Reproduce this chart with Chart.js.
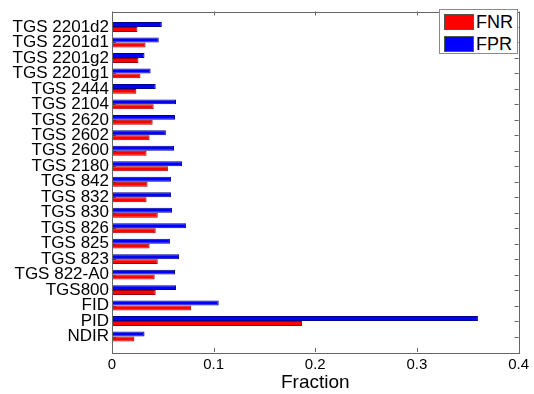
<!DOCTYPE html>
<html>
<head>
<meta charset="utf-8">
<script src="https://cdn.jsdelivr.net/npm/chart.js@4/dist/chart.umd.min.js"></script>
<style>
  body { margin: 0; background: #fff; }
  #wrap { position: relative; width: 534px; height: 394px; }
  #legend {
    position: absolute; left: 439px; top: 9px; width: 79px; height: 45px;
    box-sizing: border-box; border: 1px solid #8a8a8a; background: #fff;
    font-family: "Liberation Sans", Arial, sans-serif; font-size: 18px; color: #000;
  }
  #legend .row { position: absolute; left: 4px; height: 17px; line-height: 17px; white-space: nowrap; }
  #legend .sw { display: inline-block; width: 30px; height: 16px; box-sizing: border-box;
    border: 1px solid #555; vertical-align: top; margin-right: 2px; }
</style>
</head>
<body>
<div id="wrap">
  <canvas id="chart" width="534" height="394"></canvas>
  <div id="legend"></div>
</div>
<script>
const categories = ["TGS 2201d2", "TGS 2201d1", "TGS 2201g2", "TGS 2201g1", "TGS 2444",
  "TGS 2104", "TGS 2620", "TGS 2602", "TGS 2600", "TGS 2180", "TGS 842", "TGS 832",
  "TGS 830", "TGS 826", "TGS 825", "TGS 823", "TGS 822-A0", "TGS800", "FID", "PID", "NDIR"];
const fnr = [0.025, 0.033, 0.026, 0.028, 0.024, 0.041, 0.040, 0.037, 0.034, 0.055, 0.035,
  0.034, 0.045, 0.043, 0.037, 0.045, 0.042, 0.043, 0.078, 0.187, 0.022];
const fpr = [0.049, 0.046, 0.032, 0.038, 0.043, 0.063, 0.062, 0.053, 0.061, 0.069, 0.058,
  0.058, 0.059, 0.073, 0.057, 0.066, 0.062, 0.063, 0.105, 0.360, 0.032];
const xTicks = [0, 0.1, 0.2, 0.3, 0.4];

const FONT = "'Liberation Sans', Arial, sans-serif";

// matlab leaves a full slot above the first and below the last bar
const labels = ["", ...categories, ""];
const pad = (arr) => [null, ...arr, null];

const series = [
  { label: "FNR", data: fnr, color: "#ff0000" },
  { label: "FPR", data: fpr, color: "#0000ff" }
];

// legend in the top right corner of the axes
const legendEl = document.getElementById("legend");
series.forEach((s, i) => {
  const row = document.createElement("div");
  row.className = "row";
  row.style.top = (4 + i * 22) + "px";
  row.innerHTML = `<span class="sw" style="background:${s.color}"></span>${s.label}`;
  legendEl.appendChild(row);
});

const frame = {
  id: "frame",
  beforeDatasetsDraw(chart) {
    const { ctx, chartArea: a, scales: { x, y } } = chart;
    ctx.save();
    ctx.strokeStyle = "#666";
    ctx.lineWidth = 1;
    ctx.beginPath();
    xTicks.forEach((v) => {
      const px = Math.round(x.getPixelForValue(v)) + 0.5;
      ctx.moveTo(px, a.bottom); ctx.lineTo(px, a.bottom - 4);
      ctx.moveTo(px, a.top); ctx.lineTo(px, a.top + 4);
    });
    categories.forEach((c, i) => {
      const py = Math.round(y.getPixelForValue(i + 1)) + 0.5;
      ctx.moveTo(a.right, py); ctx.lineTo(a.right - 4, py);
      ctx.moveTo(a.left, py); ctx.lineTo(a.left + 4, py);
    });
    ctx.stroke();
    ctx.restore();
  },
  afterDatasetsDraw(chart) {
    const { ctx, chartArea: a } = chart;
    ctx.save();
    ctx.strokeStyle = "#666";
    ctx.lineWidth = 1;
    ctx.strokeRect(Math.round(a.left) + 0.5, Math.round(a.top) + 0.5,
      Math.round(a.right - a.left), Math.round(a.bottom - a.top));
    ctx.restore();
  }
};

new Chart(document.getElementById("chart"), {
  type: "bar",
  data: {
    labels,
    datasets: [
      { label: "FPR", data: pad(fpr), backgroundColor: "#0000ff", borderColor: "#00008a" },
      { label: "FNR", data: pad(fnr), backgroundColor: "#ff0000", borderColor: "#9a0000" }
    ].map((d) => ({ ...d, borderWidth: 1, borderSkipped: "start" }))
  },
  options: {
    indexAxis: "y",
    responsive: false,
    animation: false,
    layout: { padding: { top: 5, right: 13, bottom: 0, left: 0 } },
    datasets: { bar: { categoryPercentage: 0.64, barPercentage: 1 } },
    plugins: { legend: { display: false }, tooltip: { enabled: false } },
    scales: {
      x: {
        type: "linear",
        min: 0,
        max: 0.4,
        afterBuildTicks: (s) => { s.ticks = xTicks.map((v) => ({ value: v })); },
        afterFit: (s) => { s.height = 42; },
        grid: { display: false, drawTicks: false },
        border: { display: false },
        ticks: { color: "#000", padding: 5, font: { family: FONT, size: 15, lineHeight: 1 },
          callback: (v) => String(v) },
        title: { display: true, text: "Fraction", color: "#000",
          font: { family: FONT, size: 19, lineHeight: 1 }, padding: { top: 0, bottom: 2 } }
      },
      y: {
        offset: false,
        afterFit: (s) => { s.width = 112; },
        grid: { display: false, drawTicks: false },
        border: { display: false },
        ticks: { color: "#000", padding: 3, autoSkip: false,
          font: { family: FONT, size: 17, lineHeight: 1 } }
      }
    }
  },
  plugins: [frame]
});
</script>
</body>
</html>
